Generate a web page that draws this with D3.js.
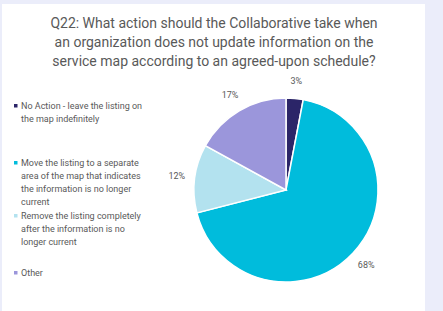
<!DOCTYPE html>
<html>
<head>
<meta charset="utf-8">
<script src="https://cdn.jsdelivr.net/npm/d3@7"></script>
<style>
  body { margin: 0; background: #ebedfa; }
  svg { display: block; }
</style>
</head>
<body>
<svg id="chart" width="443" height="311"></svg>
<script>
// data
var categories = [
  "No Action - leave the listing on the map indefinitely",
  "Move the listing to a separate area of the map that indicates the information is no longer current",
  "Remove the listing completely after the information is no longer current",
  "Other"
];
var values = [3, 68, 12, 17];
var colors = ["#2b2568", "#00bcdc", "#b3e2ef", "#9b96db"];
// legend text wrapped as in the picture
var legendLines = [
  ["No Action - leave the listing on", "the map indefinitely"],
  ["Move the listing to a separate", "area of the map that indicates", "the information is no longer", "current"],
  ["Remove the listing completely", "after the information is no", "longer current"],
  ["Other"]
];
var titleLines = [
  "Q22: What action should the Collaborative take when",
  "an organization does not update information on the",
  "service map according to an agreed-upon schedule?"
];

var svg = d3.select("#chart");
var textCol = "#595959";

// white panel
svg.append("rect").attr("x", 2).attr("y", 4).attr("width", 423).attr("height", 307).attr("fill", "#fff");

// title
svg.append("g").selectAll("text")
  .data(titleLines).enter().append("text")
  .attr("x", 214).attr("y", function(d, i){ return 28 + i * 19; })
  .attr("text-anchor", "middle")
  .attr("font-family", "Roboto, sans-serif")
  .attr("font-size", "14px")
  .attr("fill", textCol)
  .text(function(d){ return d; });

// legend
var legendY = [109, 166, 219, 276];
var lg = svg.append("g").attr("font-family", "Roboto, sans-serif").attr("font-size", "9px").attr("fill", textCol);
legendLines.forEach(function(lines, k){
  lg.append("rect").attr("x", 14).attr("y", legendY[k] - 5).attr("width", 3.5).attr("height", 3.5).attr("fill", colors[k]);
  lines.forEach(function(t, j){
    lg.append("text").attr("x", 21).attr("y", legendY[k] + j * 13).text(t);
  });
});

// pie
var cx = 286, cy = 190, r = 92;
var pie = d3.pie().sort(null).value(function(d){ return d; });
var arc = d3.arc().innerRadius(0).outerRadius(r);
var labelArc = d3.arc().innerRadius(r + 18).outerRadius(r + 18);
var arcs = pie(values);

var pg = svg.append("g").attr("transform", "translate(" + cx + "," + cy + ")");
pg.selectAll("path").data(arcs).enter().append("path")
  .attr("d", arc)
  .attr("fill", function(d, i){ return colors[i]; })
  .attr("stroke", "#fff").attr("stroke-width", 1.5);

pg.selectAll("text").data(arcs).enter().append("text")
  .attr("transform", function(d){ return "translate(" + labelArc.centroid(d) + ")"; })
  .attr("dy", "0.35em")
  .attr("text-anchor", "middle")
  .attr("font-family", "Roboto, sans-serif")
  .attr("font-size", "9px")
  .attr("fill", textCol)
  .text(function(d){ return d.data + "%"; });
</script>
</body>
</html>
